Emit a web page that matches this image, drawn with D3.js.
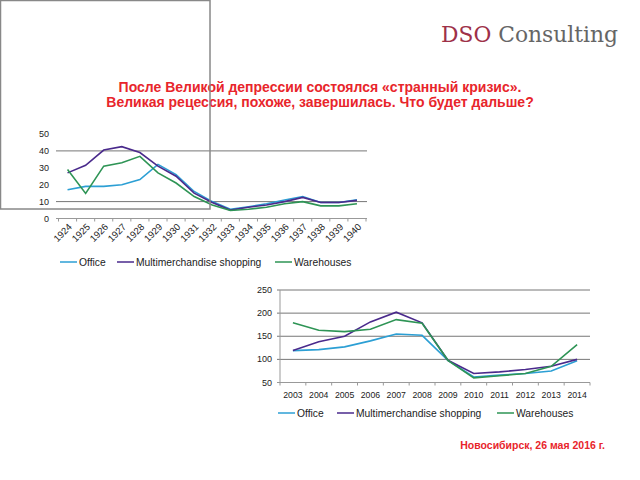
<!DOCTYPE html>
<html>
<head>
<meta charset="utf-8">
<script src="https://cdn.jsdelivr.net/npm/d3@7"></script>
<style>
    body { margin: 0; background: #fff; }
    svg { display: block; }
    text { font-family: "Liberation Sans", Arial, sans-serif; }
</style>
</head>
<body>
<div id="chart"></div>
<script>
// data: 1924-1940
let yearsOld = ["1924","1925","1926","1927","1928","1929","1930","1931","1932","1933","1934","1935","1936","1937","1938","1939","1940"];
let officeOld = [17, 19, 19, 20, 23, 32, 26, 16, 10, 5.5, 7, 8.7, 11, 13, 9.5, 9.5, 11];
let multiOld = [27, 31.5, 40.5, 42.5, 39, 31, 25, 15, 9.5, 5, 6.7, 8, 10, 12.5, 9.5, 9.5, 10.7];
let wareOld = [29, 14.8, 31, 33, 36.8, 27, 21, 13, 8, 4.7, 5.5, 6.7, 8.7, 10, 7.5, 7.5, 8.7];
let ticksOld = [0, 10, 20, 30, 40, 50];
let gridOld = [10, 40];

// data: 2003-2014
let yearsNew = ["2003","2004","2005","2006","2007","2008","2009","2010","2011","2012","2013","2014"];
let officeNew = [119, 121, 127, 140, 155, 152, 98, 62, 66, 69.5, 75, 97];
let multiNew = [119, 138, 150, 181, 202, 179, 98, 69.5, 73, 78, 85, 100];
let wareNew = [179, 163, 160, 165, 186, 178, 98, 60, 64.5, 69.5, 85, 132];
let ticksNew = [50, 100, 150, 200, 250];

let seriesNames = ["Office", "Multimerchandise shopping", "Warehouses"];
let seriesColors = ["#2c9fd4", "#4a2a8c", "#2e9455"];

let svg = d3.select("#chart").append("svg")
    .attr("width", 640)
    .attr("height", 480);

// logo
let logo = svg.append("text")
    .attr("x", 441)
    .attr("y", 42)
    .style("font-family", "'DejaVu Serif', 'Liberation Serif', serif")
    .style("font-size", "21.8px");
logo.append("tspan").attr("fill", "#9e3149").text("DSO");
logo.append("tspan").attr("fill", "#666").text(" Consulting");

// title
let title = ["После Великой депрессии состоялся «странный кризис».",
             "Великая рецессия, похоже, завершилась. Что будет дальше?"];
svg.selectAll(".title")
    .data(title)
    .enter()
    .append("text")
    .attr("class", "title")
    .attr("x", 320)
    .attr("y", (d, i) => 91.5 + i * 15)
    .attr("text-anchor", "middle")
    .attr("fill", "#e8252b")
    .style("font-weight", "bold")
    .style("font-size", "14px")
    .text(d => d);

// footer
svg.append("text")
    .attr("x", 605)
    .attr("y", 449)
    .attr("text-anchor", "end")
    .attr("fill", "#e8252b")
    .style("font-weight", "bold")
    .style("font-size", "10.5px")
    .text("Новосибирск, 26 мая 2016 г.");

function drawLegend(g, xs, y) {
    seriesNames.forEach((name, i) => {
        g.append("line")
            .attr("x1", xs[i]).attr("x2", xs[i] + 17)
            .attr("y1", y).attr("y2", y)
            .attr("stroke", seriesColors[i])
            .attr("stroke-width", 1.5);
        g.append("text")
            .attr("x", xs[i] + 19)
            .attr("y", y + 3.5)
            .style("font-size", "10.3px")
            .attr("fill", "#222")
            .text(name);
    });
}

// ---------- old chart ----------
let gOld = svg.append("g");

let xOld = d3.scaleBand().domain(yearsOld).range([58.5, 366]);
let yOld = d3.scaleLinear().domain([0, 50]).range([218.5, 134]);

gOld.selectAll(".gridOld")
    .data(gridOld)
    .enter()
    .append("line")
    .attr("x1", 56).attr("x2", 367)
    .attr("y1", d => yOld(d)).attr("y2", d => yOld(d))
    .attr("stroke", "#777")
    .attr("stroke-width", 1);

gOld.selectAll(".ylabOld")
    .data(ticksOld)
    .enter()
    .append("text")
    .attr("x", 49)
    .attr("y", d => yOld(d) + 3)
    .attr("text-anchor", "end")
    .style("font-size", "9px")
    .attr("fill", "#222")
    .text(d => d);

// x axis
gOld.append("line")
    .attr("x1", 56).attr("x2", 367)
    .attr("y1", yOld(0)).attr("y2", yOld(0))
    .attr("stroke", "#999");
gOld.selectAll(".xtickOld")
    .data(yearsOld.concat(["end"]))
    .enter()
    .append("line")
    .attr("x1", (d, i) => xOld.range()[0] + i * xOld.step())
    .attr("x2", (d, i) => xOld.range()[0] + i * xOld.step())
    .attr("y1", yOld(0)).attr("y2", yOld(0) + 3)
    .attr("stroke", "#999");
gOld.selectAll(".xlabOld")
    .data(yearsOld)
    .enter()
    .append("text")
    .attr("text-anchor", "end")
    .attr("transform", d => "translate(" + (xOld(d) + xOld.bandwidth() / 2 + 5) + "," + (yOld(0) + 9) + ") rotate(-45)")
    .style("font-size", "9.5px")
    .attr("fill", "#222")
    .text(d => d);

let lineOld = d3.line()
    .x((d, i) => xOld(yearsOld[i]) + xOld.bandwidth() / 2)
    .y(d => yOld(d));

[officeOld, multiOld, wareOld].forEach((s, i) => {
    gOld.append("path")
        .attr("d", lineOld(s))
        .attr("fill", "none")
        .attr("stroke", seriesColors[i])
        .attr("stroke-width", 1.6);
});

drawLegend(gOld, [60, 117, 275], 262);

// grey frame
svg.append("rect")
    .attr("x", 0.5).attr("y", 0.5)
    .attr("width", 209.5).attr("height", 208.5)
    .attr("fill", "none")
    .attr("stroke", "#888")
    .attr("stroke-width", 1.5);

// ---------- new chart ----------
let gNew = svg.append("g");

let xNew = d3.scaleBand().domain(yearsNew).range([280, 590]);
let yNew = d3.scaleLinear().domain([50, 250]).range([382.5, 290]);

gNew.selectAll(".gridNew")
    .data(ticksNew)
    .enter()
    .append("line")
    .attr("x1", 277).attr("x2", 590)
    .attr("y1", d => yNew(d)).attr("y2", d => yNew(d))
    .attr("stroke", d => d === 50 ? "#999" : "#777")
    .attr("stroke-width", 1);

gNew.append("line")
    .attr("x1", 280).attr("x2", 280)
    .attr("y1", yNew(250)).attr("y2", yNew(50))
    .attr("stroke", "#999");

gNew.selectAll(".ylabNew")
    .data(ticksNew)
    .enter()
    .append("text")
    .attr("x", 272)
    .attr("y", d => yNew(d) + 3)
    .attr("text-anchor", "end")
    .style("font-size", "9px")
    .attr("fill", "#222")
    .text(d => d);

gNew.selectAll(".xtickNew")
    .data(yearsNew.concat(["end"]))
    .enter()
    .append("line")
    .attr("x1", (d, i) => xNew.range()[0] + i * xNew.step())
    .attr("x2", (d, i) => xNew.range()[0] + i * xNew.step())
    .attr("y1", yNew(50)).attr("y2", yNew(50) + 3)
    .attr("stroke", "#999");

gNew.selectAll(".xlabNew")
    .data(yearsNew)
    .enter()
    .append("text")
    .attr("x", d => xNew(d) + xNew.bandwidth() / 2)
    .attr("y", yNew(50) + 15)
    .attr("text-anchor", "middle")
    .style("font-size", "8.7px")
    .attr("fill", "#222")
    .text(d => d);

let lineNew = d3.line()
    .x((d, i) => xNew(yearsNew[i]) + xNew.bandwidth() / 2)
    .y(d => yNew(d));

[officeNew, multiNew, wareNew].forEach((s, i) => {
    gNew.append("path")
        .attr("d", lineNew(s))
        .attr("fill", "none")
        .attr("stroke", seriesColors[i])
        .attr("stroke-width", 1.6);
});

drawLegend(gNew, [278, 337, 497], 413);
</script>
</body>
</html>
